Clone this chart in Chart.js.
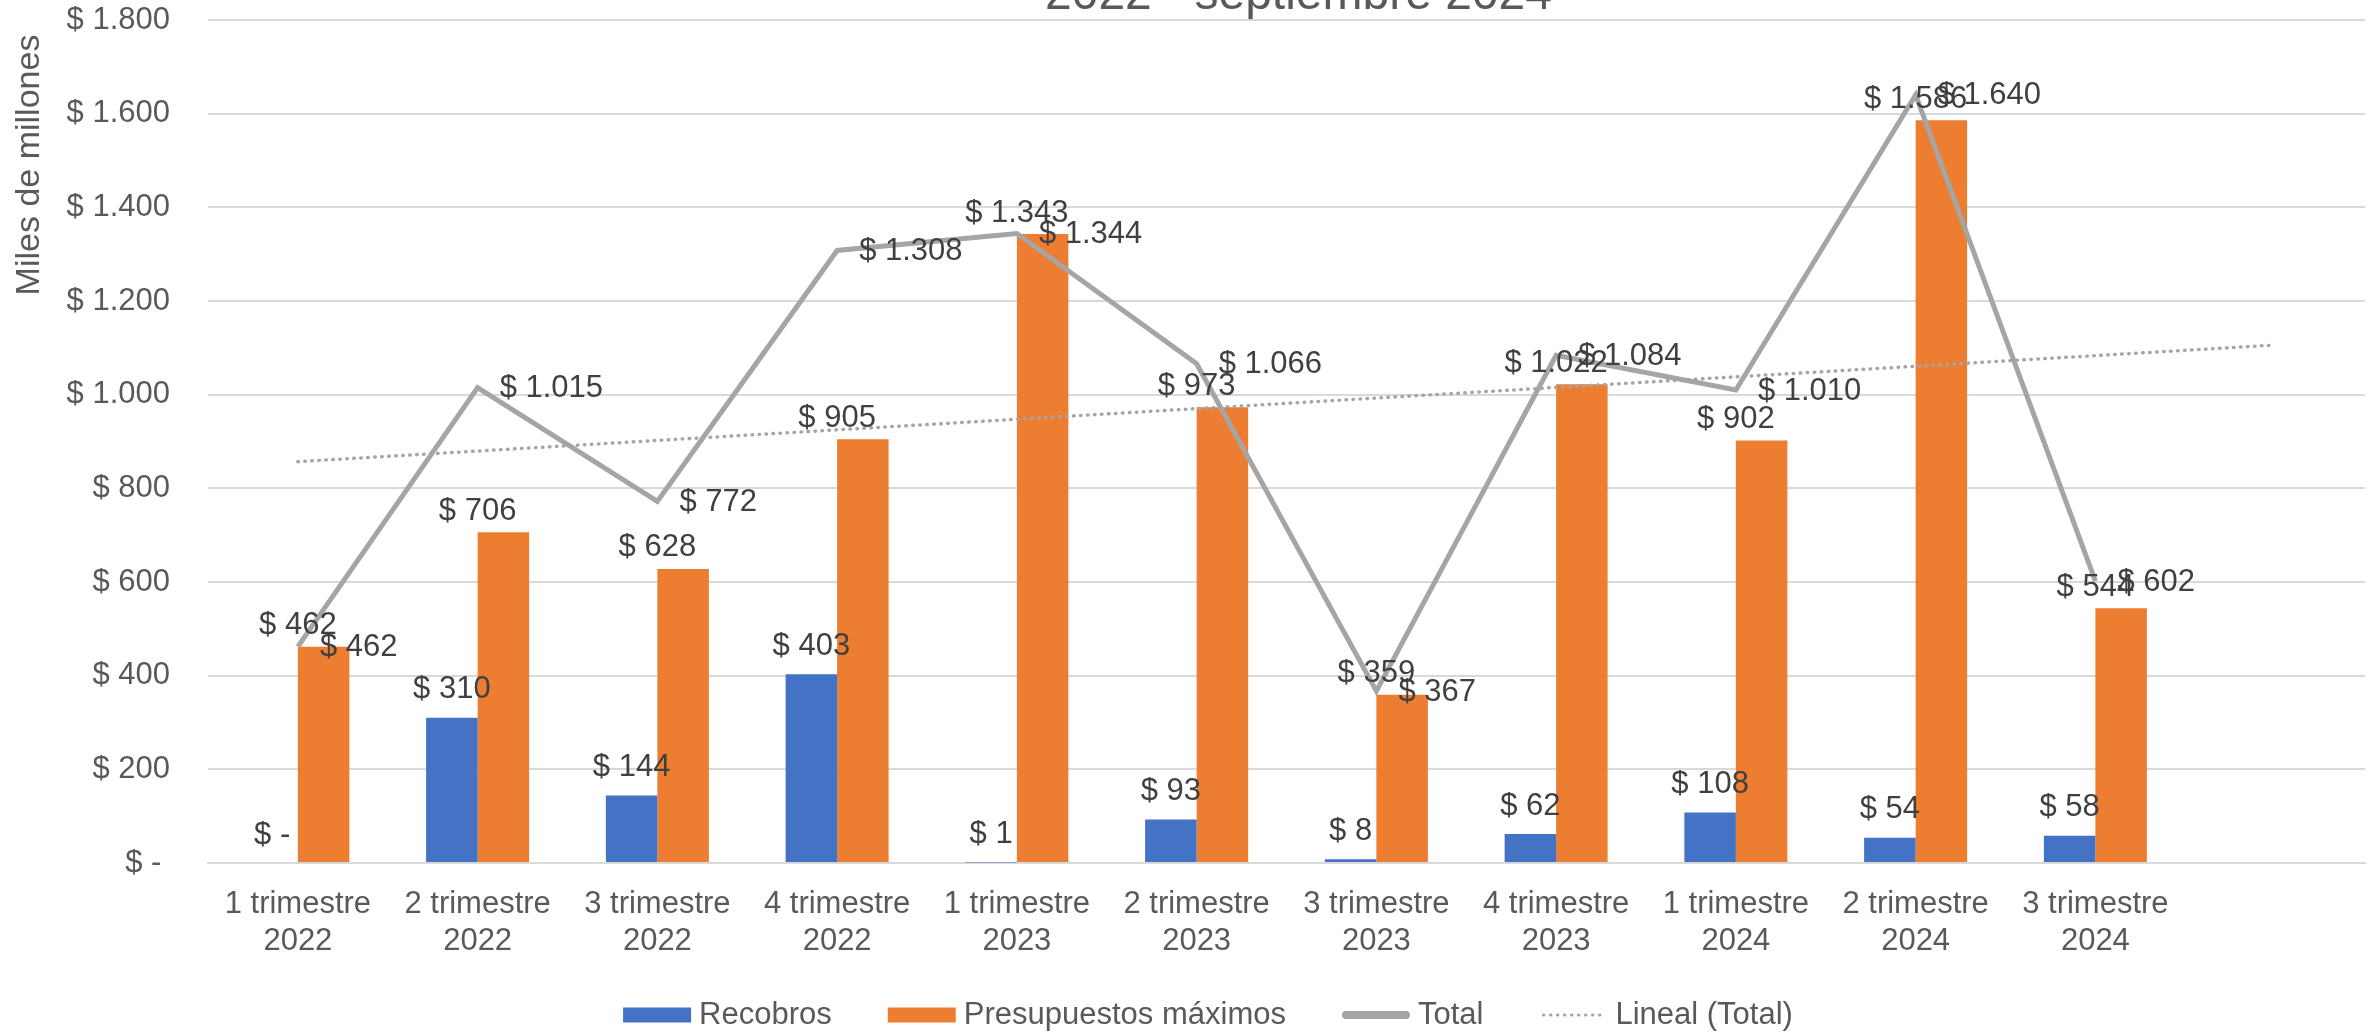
<!DOCTYPE html>
<html lang="es">
<head>
<meta charset="utf-8">
<title>Recobros y presupuestos máximos</title>
<script src="https://cdn.jsdelivr.net/npm/chart.js@4.4.1/dist/chart.umd.min.js"></script>
<style>
  html, body { margin: 0; padding: 0; background: #fff; }
  canvas { display: block; }
</style>
</head>
<body>
<canvas id="chart" width="2377" height="1033"></canvas>
<script>
// quarters, the last slot is empty (trend line forecast)
const categories = [
  ["1 trimestre", "2022"], ["2 trimestre", "2022"], ["3 trimestre", "2022"], ["4 trimestre", "2022"],
  ["1 trimestre", "2023"], ["2 trimestre", "2023"], ["3 trimestre", "2023"], ["4 trimestre", "2023"],
  ["1 trimestre", "2024"], ["2 trimestre", "2024"], ["3 trimestre", "2024"], ""
];
const recobros = [0, 310, 144, 403, 1, 93, 8, 62, 108, 54, 58, null];
const presupuestos = [462, 706, 628, 905, 1343, 973, 359, 1022, 902, 1586, 544, null];
const total = [462, 1015, 772, 1308, 1344, 1066, 367, 1084, 1010, 1640, 602, null];
// trend line: start and end only
const lineal = [857, null, null, null, null, null, null, null, null, null, null, 1106];
const yMin = 0, yMax = 1800, yStep = 200;

const FONT = '"Liberation Sans", Arial, sans-serif';
const GREY_TEXT = "#595959";
const LABEL_TEXT = "#404040";

function money(v) {
  if (v === 0) return "$ -";
  return "$ " + String(Math.round(v)).replace(/\B(?=(\d{3})+(?!\d))/g, ".");
}

// value labels on bars and on the Total line
const dataLabels = {
  id: "dataLabels",
  afterDatasetsDraw(chart) {
    const ctx = chart.ctx;
    ctx.save();
    ctx.font = "31px " + FONT;
    ctx.fillStyle = LABEL_TEXT;
    ctx.textBaseline = "middle";
    chart.data.datasets.forEach((ds, di) => {
      if (!ds.labelMode) return;
      const meta = chart.getDatasetMeta(di);
      meta.data.forEach((el, i) => {
        const v = ds.data[i];
        if (v === null || v === undefined) return;
        const text = money(v);
        if (ds.labelMode === "line") {
          ctx.textAlign = "left";
          ctx.fillText(text, el.x + 22, el.y + 1);
        } else if (ds.labelMode === "barRight") {
          ctx.textAlign = "center";
          ctx.fillText(text, el.x - el.width / 2, el.y - 21);
        } else {
          ctx.textAlign = "center";
          ctx.fillText(text, el.x, el.y - 28);
        }
      });
    });
    ctx.restore();
  }
};

// title (cut off at the top), y axis title and legend
const decorations = {
  id: "decorations",
  afterDraw(chart) {
    const ctx = chart.ctx;
    const area = chart.chartArea;
    ctx.save();

    ctx.fillStyle = GREY_TEXT;
    ctx.font = "48px " + FONT;
    ctx.textAlign = "center";
    ctx.textBaseline = "alphabetic";
    ctx.fillText("2022 - septiembre 2024", (area.left + area.right) / 2 + 12, 9);

    ctx.save();
    ctx.translate(30, 165);
    ctx.rotate(-Math.PI / 2);
    ctx.font = "34px " + FONT;
    ctx.textBaseline = "middle";
    ctx.fillText("Miles de millones", 0, 0);
    ctx.restore();

    ctx.font = "31px " + FONT;
    ctx.textAlign = "left";
    ctx.textBaseline = "middle";
    const box = 68, gap = 8, space = 56;
    const items = chart.data.datasets.map(ds => ({ ds, w: ctx.measureText(ds.label).width }));
    const width = items.reduce((s, it) => s + box + gap + it.w, 0) + space * (items.length - 1);
    let x = 1208 - width / 2;
    const y = 1015;
    items.forEach(({ ds, w }) => {
      if (ds.type === "line") {
        ctx.strokeStyle = ds.borderColor;
        ctx.lineWidth = ds.legendWidth;
        ctx.lineCap = "round";
        ctx.setLineDash(ds.borderDash || []);
        ctx.beginPath();
        ctx.moveTo(x + 4, y);
        ctx.lineTo(x + box - 4, y);
        ctx.stroke();
        ctx.setLineDash([]);
      } else {
        ctx.fillStyle = ds.backgroundColor;
        ctx.fillRect(x, y - 7.5, box, 15);
      }
      ctx.fillStyle = GREY_TEXT;
      ctx.fillText(ds.label, x + box + gap, y);
      x += box + gap + w + space;
    });
    ctx.restore();
  }
};

new Chart(document.getElementById("chart"), {
  type: "bar",
  data: {
    labels: categories,
    datasets: [
      {
        label: "Recobros",
        data: recobros,
        backgroundColor: "#4472C4",
        categoryPercentage: 0.573,
        barPercentage: 1,
        order: 2,
        labelMode: "barLeft"
      },
      {
        label: "Presupuestos máximos",
        data: presupuestos,
        backgroundColor: "#ED7D31",
        categoryPercentage: 0.573,
        barPercentage: 1,
        order: 2,
        labelMode: "barRight"
      },
      {
        type: "line",
        label: "Total",
        data: total,
        borderColor: "#A5A5A5",
        borderWidth: 5,
        pointRadius: 0,
        tension: 0,
        order: 0,
        legendWidth: 8,
        labelMode: "line"
      },
      {
        type: "line",
        label: "Lineal (Total)",
        data: lineal,
        borderColor: "#A5A5A5",
        borderWidth: 3.5,
        borderDash: [0.5, 6.5],
        borderCapStyle: "round",
        pointRadius: 0,
        spanGaps: true,
        order: 1,
        legendWidth: 3
      }
    ]
  },
  options: {
    responsive: false,
    animation: false,
    events: [],
    layout: { padding: { top: 20, right: 12, bottom: 70, left: 0 } },
    plugins: {
      legend: { display: false },
      tooltip: { enabled: false },
      title: { display: false }
    },
    scales: {
      x: {
        grid: { display: false },
        border: { display: true, color: "#D9D9D9", width: 2 },
        ticks: {
          color: GREY_TEXT,
          font: { family: FONT, size: 31, lineHeight: 37 / 31 },
          padding: 15,
          maxRotation: 0,
          autoSkip: false
        },
        afterFit(scale) { scale.height = 100; }
      },
      y: {
        min: yMin,
        max: yMax,
        grid: { color: "#D9D9D9", lineWidth: 2, drawTicks: false },
        border: { display: false },
        ticks: {
          stepSize: yStep,
          padding: 38,
          color: GREY_TEXT,
          font: { family: FONT, size: 31 },
          callback: v => v === 0 ? "$ - " : money(v)
        },
        afterFit(scale) {
          scale.width = 208;
          scale.paddingTop = 0;
          scale.paddingBottom = 0;
        }
      }
    }
  },
  plugins: [dataLabels, decorations]
});
</script>
</body>
</html>
